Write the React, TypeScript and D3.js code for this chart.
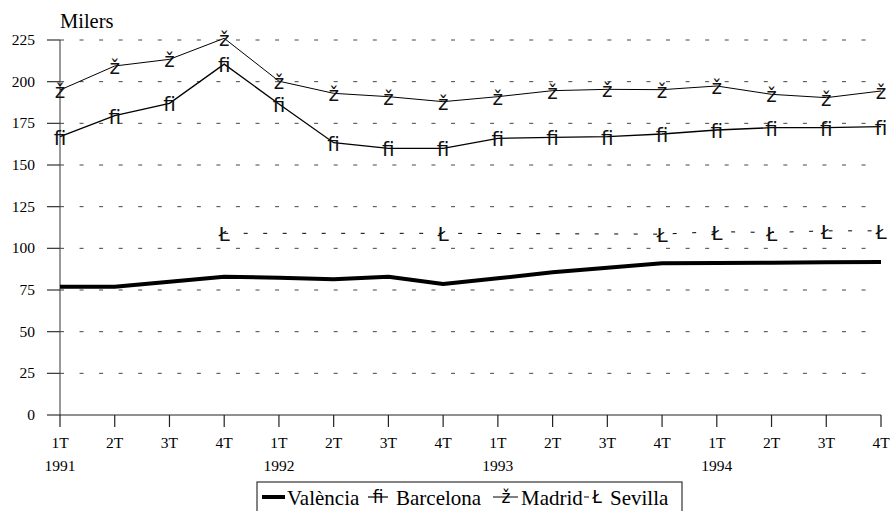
import React from "react";
import * as d3 from "d3";

const quarters = ["1T", "2T", "3T", "4T"];
const years = ["1991", "1992", "1993", "1994"];
const periods = years.flatMap((y) => quarters.map((q) => `${q} ${y}`));

const valencia = [77, 77, 80, 83, 82.4, 81.4, 83, 78.6, 82, 85.6, 88.4, 91, 91.2, 91.4, 91.6, 91.8];
const barcelona = [167, 179.6, 187, 210.5, 186.6, 163.4, 160, 160, 166, 166.6, 167, 168.6, 171, 172.4, 172.4, 173];
const madrid = [195, 209.4, 213.4, 226, 200.3, 193, 191, 188, 191, 194.6, 195.4, 195.2, 197.4, 192.4, 190.4, 194.4];
const sevilla: (number | null)[] = [null, null, null, 109, null, null, null, 109, null, null, null, 108.5, 110, 109.5, 110.5, 110.5];

const yTicks = [0, 25, 50, 75, 100, 125, 150, 175, 200, 225];

const W = 893;
const H = 511;

const serif = "Liberation Serif, Tinos, Times New Roman, Times, serif";
const sans = "DejaVu Sans, sans-serif";

export default function App() {
  const x = d3.scalePoint<string>().domain(periods).range([60, 881]);
  const y = d3.scaleLinear().domain([0, 225]).range([415, 40]);

  type P = [string, number];
  const toPts = (arr: (number | null)[]): P[] =>
    arr.map((v, i) => [periods[i], v] as [string, number | null]).filter((d) => d[1] != null) as P[];
  const line = d3
    .line<P>()
    .x((d) => x(d[0]) as number)
    .y((d) => y(d[1]));

  const serifStyle = { fontFamily: serif } as React.CSSProperties;
  const sansStyle = { fontFamily: sans } as React.CSSProperties;

  const markerSet = (arr: (number | null)[], glyph: string, key: string) =>
    toPts(arr).map((d, i) => (
      <text
        key={key + i}
        x={x(d[0]) as number}
        y={y(d[1]) + 8}
        textAnchor="middle"
        style={sansStyle}
        fontSize={20}
        fill="#111"
      >
        {glyph}
      </text>
    ));

  return (
    <div style={{ position: "absolute", left: 0, top: 0 }}>
      <svg width={W} height={H} style={{ display: "block", background: "#fff" }}>
        {yTicks
          .filter((t) => t > 0)
          .map((t) => (
            <line
              key={"g" + t}
              x1={60}
              x2={881}
              y1={y(t)}
              y2={y(t)}
              stroke="#444"
              strokeWidth={1}
              strokeDasharray="4 15.55"
            />
          ))}
        <line x1={60} x2={60} y1={y(225)} y2={y(0)} stroke="#555" strokeWidth={1.2} />
        {yTicks.map((t) => (
          <g key={"yt" + t}>
            <line x1={47} x2={60} y1={y(t)} y2={y(t)} stroke="#333" strokeWidth={1.2} />
            <text x={35} y={y(t) + 5} textAnchor="end" style={serifStyle} fontSize={15.5} fill="#000">
              {t}
            </text>
          </g>
        ))}
        <line x1={60} x2={881} y1={y(0)} y2={y(0)} stroke="#222" strokeWidth={1.2} />
        {periods.map((p, i) => (
          <g key={"xt" + p}>
            <line x1={x(p) as number} x2={x(p) as number} y1={415} y2={427} stroke="#222" strokeWidth={1.2} />
            <text x={x(p) as number} y={448} textAnchor="middle" style={serifStyle} fontSize={15.5} fill="#000">
              {quarters[i % 4]}
            </text>
            {i % 4 === 0 && (
              <text x={x(p) as number} y={470.5} textAnchor="middle" style={serifStyle} fontSize={15.5} fill="#000">
                {years[i / 4]}
              </text>
            )}
          </g>
        ))}
        <text x={60} y={28} style={serifStyle} fontSize={20.5} fill="#000">
          Milers
        </text>

        <path d={line(toPts(madrid)) || ""} fill="none" stroke="#000" strokeWidth={1} />
        <path d={line(toPts(barcelona)) || ""} fill="none" stroke="#000" strokeWidth={1.3} />
        <path d={line(toPts(sevilla)) || ""} fill="none" stroke="#000" strokeWidth={1} strokeDasharray="4 15.5" />
        <path d={line(toPts(valencia)) || ""} fill="none" stroke="#000" strokeWidth={4} strokeLinejoin="round" />
        {markerSet(madrid, "ž", "m")}
        {markerSet(barcelona, "ﬁ", "b")}
        {markerSet(sevilla, "Ł", "s")}

        <rect x={257} y={482} width={425} height={34} fill="#fff" stroke="#333" strokeWidth={1.2} />
        <line x1={262} x2={285} y1={497} y2={497} stroke="#000" strokeWidth={4} />
        <text x={287} y={505} style={serifStyle} fontSize={21} fill="#000">
          València
        </text>
        <line x1={368} x2={388} y1={497} y2={497} stroke="#000" strokeWidth={1.2} />
        <text x={378} y={503} textAnchor="middle" style={sansStyle} fontSize={17} fill="#000">
          ﬁ
        </text>
        <text x={396} y={505} style={serifStyle} fontSize={21} fill="#000">
          Barcelona
        </text>
        <line x1={493} x2={518} y1={497} y2={497} stroke="#000" strokeWidth={1} />
        <text x={506} y={503} textAnchor="middle" style={sansStyle} fontSize={17} fill="#000">
          ž
        </text>
        <text x={521} y={505} style={serifStyle} fontSize={21} fill="#000">
          Madrid
        </text>
        <line x1={584} x2={589} y1={497} y2={497} stroke="#000" strokeWidth={1} />
        <text x={597} y={503} textAnchor="middle" style={sansStyle} fontSize={17} fill="#000">
          Ł
        </text>
        <text x={610} y={505} style={serifStyle} fontSize={21} fill="#000">
          Sevilla
        </text>
      </svg>
    </div>
  );
}
